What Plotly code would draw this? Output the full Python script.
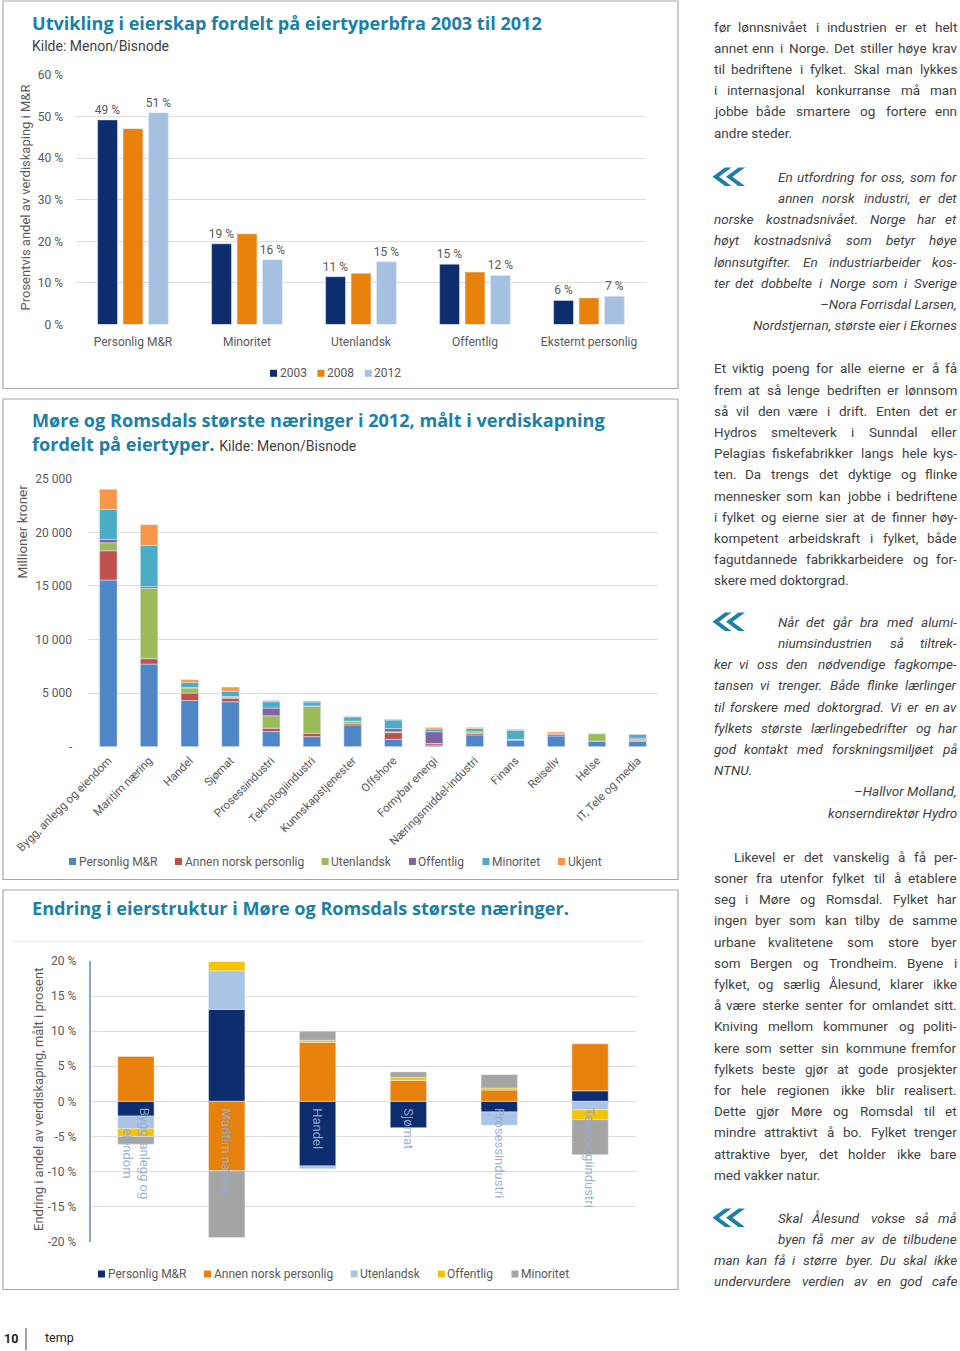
import plotly.graph_objects as go

W, H = 960, 1351


def px(x):
    return x / W


def py(y):
    return 1 - y / H


# ---------------- DATA ----------------
# Chart 1: Utvikling i eierskap (percent of value creation)
c1_categories = ["Personlig M&R", "Minoritet", "Utenlandsk", "Offentlig", "Eksternt personlig"]
c1_years = ["2003", "2008", "2012"]
c1_2003 = [49.2, 19.4, 11.5, 14.5, 5.8]
c1_2008 = [47.1, 21.8, 12.3, 12.6, 6.4]
c1_2012 = [50.9, 15.6, 15.1, 11.8, 6.8]
c1_labels_2003 = ["49 %", "19 %", "11 %", "15 %", "6 %"]
c1_labels_2012 = ["51 %", "16 %", "15 %", "12 %", "7 %"]
c1_yticks = [0, 10, 20, 30, 40, 50, 60]
c1_yticklabels = ["0 %", "10 %", "20 %", "30 %", "40 %", "50 %", "60 %"]

# Chart 2: største næringer 2012 (million NOK)
c2_categories = ["Bygg, anlegg og eiendom", "Maritim næring", "Handel", "Sjømat",
                 "Prosessindustri", "Teknologiindustri", "Kunnskapstjenester", "Offshore",
                 "Fornybar energi", "Næringsmiddel-industri", "Finans", "Reiseliv", "Helse",
                 "IT, Tele og media"]
c2_series = ["Personlig M&R", "Annen norsk personlig", "Utenlandsk", "Offentlig", "Minoritet", "Ukjent"]
c2_personlig = [15550, 7710, 4310, 4190, 1410, 940, 2030, 690, 150, 1100, 630, 1000, 530, 500]
c2_annen = [2730, 500, 690, 340, 310, 310, 150, 620, 150, 150, 0, 200, 0, 100]
c2_utenlandsk = [750, 6560, 470, 100, 1160, 2500, 200, 80, 0, 150, 50, 0, 690, 100]
c2_offentlig = [310, 160, 50, 50, 720, 50, 0, 300, 1100, 0, 0, 0, 0, 100]
c2_minoritet = [2800, 3850, 480, 500, 600, 370, 400, 800, 250, 300, 850, 0, 30, 350]
c2_ukjent = [1870, 1930, 250, 380, 120, 100, 30, 70, 150, 100, 90, 170, 0, 40]
c2_yticks = [0, 5000, 10000, 15000, 20000, 25000]
c2_yticklabels = ["-", "5 000", "10 000", "15 000", "20 000", "25 000"]

# Chart 3: Endring i eierstruktur (percentage points)
c3_categories = ["Bygg, anlegg og eiendom", "Maritim næring", "Handel", "Sjømat",
                 "Prosessindustri", "Teknologiindustri"]
c3_catlabels = ["Bygg, anlegg og<br>eiendom", "Maritim næring", "Handel", "Sjømat",
                "Prosessindustri", "Teknologiindustri"]
c3_series = ["Personlig M&R", "Annen norsk personlig", "Utenlandsk", "Offentlig", "Minoritet"]
c3_personlig = [-2.1, 13.1, -9.2, -3.75, -1.5, 1.5]
c3_annen = [6.4, -9.9, 8.4, 3.0, 1.6, 6.7]
c3_utenlandsk = [-1.8, 5.5, -0.4, 0.0, -1.9, -1.2]
c3_offentlig = [-1.1, 1.3, 0.3, 0.4, 0.3, -1.4]
c3_minoritet = [-1.1, -9.5, 1.3, 0.8, 1.9, -5.0]
c3_yticks = [-20, -15, -10, -5, 0, 5, 10, 15, 20]
c3_yticklabels = ["-20 %", "-15 %", "-10 %", "-5 %", "0 %", "5 %", "10 %", "15 %", "20 %"]

# Body text column
para1 = [("J", "før lønnsnivået i industrien er et helt"),
         ("J", "annet enn i Norge. Det stiller høye krav"),
         ("J", "til bedriftene i fylket. Skal man lykkes"),
         ("J", "i internasjonal konkurranse må man"),
         ("J", "jobbe både smartere og fortere enn"),
         ("L", "andre steder.")]
quote1 = [("Q", "En utfordring for oss, som for"),
          ("Q", "annen norsk industri, er det"),
          ("J", "norske kostnadsnivået. Norge har et"),
          ("J", "høyt kostnadsnivå som betyr høye"),
          ("J", "lønnsutgifter. En industriarbeider kos-"),
          ("J", "ter det dobbelte i Norge som i Sverige"),
          ("R", "–Nora Forrisdal Larsen,"),
          ("R", "Nordstjernan, største eier i Ekornes")]
para2 = [("J", "Et viktig poeng for alle eierne er å få"),
         ("J", "frem at så lenge bedriften er lønnsom"),
         ("J", "så vil den være i drift. Enten det er"),
         ("J", "Hydros smelteverk i Sunndal eller"),
         ("J", "Pelagias fiskefabrikker langs hele kys-"),
         ("J", "ten. Da trengs det dyktige og flinke"),
         ("J", "mennesker som kan jobbe i bedriftene"),
         ("J", "i fylket og eierne sier at de finner høy-"),
         ("J", "kompetent arbeidskraft i fylket, både"),
         ("J", "fagutdannede fabrikkarbeidere og for-"),
         ("L", "skere med doktorgrad.")]
quote2 = [("Q", "Når det går bra med alumi-"),
          ("Q", "niumsindustrien så tiltrek-"),
          ("J", "ker vi oss den nødvendige fagkompe-"),
          ("J", "tansen vi trenger. Både flinke lærlinger"),
          ("J", "til forskere med doktorgrad. Vi er en av"),
          ("J", "fylkets største lærlingebedrifter og har"),
          ("J", "god kontakt med forskningsmiljøet på"),
          ("L", "NTNU."),
          ("R", "–Hallvor Molland,"),
          ("R", "konserndirektør Hydro")]
para3 = [("I", "Likevel er det vanskelig å få per-"),
         ("J", "soner fra utenfor fylket til å etablere"),
         ("J", "seg i Møre og Romsdal. Fylket har"),
         ("J", "ingen byer som kan tilby de samme"),
         ("J", "urbane kvalitetene som store byer"),
         ("J", "som Bergen og Trondheim. Byene i"),
         ("J", "fylket, og særlig Ålesund, klarer ikke"),
         ("J", "å være sterke senter for omlandet sitt."),
         ("J", "Kniving mellom kommuner og politi-"),
         ("J", "kere som setter sin kommune fremfor"),
         ("J", "fylkets beste gjør at gode prosjekter"),
         ("J", "for hele regionen ikke blir realisert."),
         ("J", "Dette gjør Møre og Romsdal til et"),
         ("J", "mindre attraktivt å bo. Fylket trenger"),
         ("J", "attraktive byer, det holder ikke bare"),
         ("L", "med vakker natur.")]
quote3 = [("Q", "Skal Ålesund vokse så må"),
          ("Q", "byen få mer av de tilbudene"),
          ("J", "man kan få i større byer. Du skal ikke"),
          ("J", "undervurdere verdien av en god cafe")]

# ---------------- STYLE ----------------
TEAL = "#1b7fa6"
GRAY = "#595959"
BODY = "#3f3f3f"
GRID = "#dedede"
FONT = "Roboto"
TFONT = "Open Sans"

c1_colors = ["#0d2d6e", "#e8820c", "#a6c0e2"]
c2_colors = ["#4f86c6", "#c0504d", "#9bbb59", "#8064a2", "#4bacc6", "#f79646"]
c3_colors = ["#0d2d6e", "#e8820c", "#a9c4e4", "#f5c400", "#a5a5a5"]

# approximate glyph widths (em) for layout estimation of text
CW = dict(a=.544, b=.561, c=.523, d=.564, e=.530, f=.347, g=.561, h=.551, i=.243, j=.239,
          k=.507, l=.243, m=.876, n=.552, o=.570, p=.561, q=.568, r=.338, s=.515, t=.327,
          u=.551, v=.484, w=.751, x=.496, y=.473, z=.496)
CW.update({"æ": .85, "ø": .57, "å": .544, "é": .53, "A": .652, "B": .622, "C": .651, "D": .656,
           "E": .568, "F": .553, "G": .681, "H": .713, "I": .272, "J": .552, "K": .627, "L": .538,
           "M": .873, "N": .713, "O": .688, "P": .631, "Q": .688, "R": .616, "S": .593, "T": .597,
           "U": .648, "V": .636, "W": .887, "X": .627, "Y": .601, "Z": .599, "Å": .652, "Ø": .688,
           "Æ": .93, " ": .248, ".": .263, ",": .196, "-": .276, "–": .55, ":": .242, "/": .411,
           "&": .622, "%": .73})
for dgt in "0123456789":
    CW[dgt] = .561


def est(s, fs):
    return sum(CW.get(ch, .55) for ch in s) * fs


annotations = []
shapes = []


def ann(x, y, text, xanchor="left", size=13.5, color=BODY, yanchor="middle", family=FONT, **kw):
    d = dict(xref="paper", yref="paper", x=px(x), y=py(y), text=text, showarrow=False,
             xanchor=xanchor, yanchor=yanchor, borderpad=0,
             font=dict(family=family, size=size, color=color))
    d.update(kw)
    annotations.append(d)


fig = go.Figure()

# ---------- Chart 1 ----------
for name, vals, col, lab in zip(c1_years, [c1_2003, c1_2008, c1_2012], c1_colors,
                                [c1_labels_2003, None, c1_labels_2012]):
    fig.add_trace(go.Bar(x=c1_categories, y=vals, name=name, marker_color=col,
                         offsetgroup="g" + name, xaxis="x", yaxis="y", showlegend=False,
                         text=lab, textposition="outside" if lab else "none",
                         constraintext="none",
                         textfont=dict(family=FONT, size=12, color=GRAY), cliponaxis=False,
                         hoverinfo="skip"))

# ---------- Chart 2 ----------
for name, vals, col in zip(c2_series, [c2_personlig, c2_annen, c2_utenlandsk, c2_offentlig,
                                       c2_minoritet, c2_ukjent], c2_colors):
    fig.add_trace(go.Bar(x=c2_categories, y=vals, name=name, marker_color=col, width=0.43,
                         offsetgroup="s2", xaxis="x2", yaxis="y2", showlegend=False,
                         hoverinfo="skip"))

# ---------- Chart 3 ----------
for name, vals, col in zip(c3_series, [c3_personlig, c3_annen, c3_utenlandsk, c3_offentlig,
                                       c3_minoritet], c3_colors):
    fig.add_trace(go.Bar(x=c3_categories, y=vals, name=name, marker_color=col, width=0.4,
                         offsetgroup="s3", xaxis="x3", yaxis="y3", showlegend=False,
                         hoverinfo="skip"))

tickfont = dict(family=FONT, size=12, color=GRAY)

layout = dict(
    width=W, height=H, margin=dict(l=0, r=0, t=0, b=0, pad=0, autoexpand=False),
    autosize=False,
    paper_bgcolor="white", plot_bgcolor="white", barmode="relative",
    bargap=0.33, bargroupgap=0.22, showlegend=False,
    font=dict(family=FONT, color=GRAY),
    xaxis=dict(domain=[px(76), px(646)], anchor="y", type="category", showgrid=False,
               showline=False, ticks="", tickfont=tickfont, ticklabelstandoff=8,
               automargin=False, fixedrange=True),
    yaxis=dict(domain=[py(324.5), py(75)], anchor="x", range=[0, 60], tickvals=c1_yticks,
               ticktext=c1_yticklabels, showgrid=True, gridcolor=GRID, zeroline=False,
               showline=False, tickfont=tickfont, ticklabelstandoff=12, automargin=False,
               fixedrange=True),
    xaxis2=dict(domain=[px(88), px(658)], anchor="y2", type="category", showgrid=False,
                showline=False, ticks="", tickangle=-45,
                tickfont=dict(family=FONT, size=11.5, color=GRAY), ticklabelstandoff=4,
                automargin=False, fixedrange=True),
    yaxis2=dict(domain=[py(746.7), py(478.7)], anchor="x2", range=[0, 25000],
                tickvals=c2_yticks, ticktext=c2_yticklabels, showgrid=True, gridcolor=GRID,
                zeroline=False, showline=False, tickfont=tickfont, ticklabelstandoff=15,
                automargin=False, fixedrange=True),
    xaxis3=dict(domain=[px(90.5), px(635.5)], anchor="y3", type="category", showgrid=False,
                showline=False, ticks="", showticklabels=False, automargin=False,
                fixedrange=True),
    yaxis3=dict(domain=[py(1241.7), py(961)], anchor="x3", range=[-20, 20],
                tickvals=c3_yticks, ticktext=c3_yticklabels, showgrid=True, gridcolor=GRID,
                zeroline=False, showline=True, linecolor="#8ea8ca", linewidth=1.5,
                tickfont=tickfont, ticklabelstandoff=10, automargin=False, fixedrange=True),
)

# ---------- chart frames ----------
for (x0, y0, x1, y1) in [(3, 1, 678, 388.5), (3, 399, 678, 879.5), (3, 890, 678, 1289.5)]:
    shapes.append(dict(type="rect", xref="paper", yref="paper", x0=px(x0), x1=px(x1),
                       y0=py(y1), y1=py(y0), line=dict(color="#a8a8a8", width=1.2),
                       fillcolor="rgba(0,0,0,0)", layer="below"))
shapes.append(dict(type="line", xref="paper", yref="paper", x0=px(11), x1=px(645),
                   y0=py(941.7), y1=py(941.7), line=dict(color="#ebebeb", width=1)))

# ---------- titles ----------
TS = 18.1
ann(31, 23.5, "<b>Utvikling i eierskap fordelt på eiertyperbfra 2003 til 2012</b>", size=TS,
    color=TEAL, family=TFONT)
ann(31, 46.5, "Kilde: Menon/Bisnode", size=14, color=BODY)
ann(31, 431.5, "<b>Møre og Romsdals største næringer i 2012, målt i verdiskapning</b><br>"
               "<b>fordelt på eiertyper.</b> <span style='font-family:Roboto;font-size:14px;"
               "color:#3f3f3f'>Kilde: Menon/Bisnode</span>", size=TS, color=TEAL,
    family=TFONT, align="left")
ann(31, 908, "<b>Endring i eierstruktur i Møre og Romsdals største næringer.</b>", size=TS,
    color=TEAL, family=TFONT)

# ---------- axis titles ----------
ann(24.5, 198, "Prosentvis andel av verdiskaping i M&R", xanchor="center", size=13,
    color=GRAY, textangle=-90)
ann(21.5, 532, "Millioner kroner", xanchor="center", size=13.5, color=GRAY, textangle=-90)
ann(38, 1100, "Endring i andel av verdiskaping, målt i prosent", xanchor="center", size=13,
    color=GRAY, textangle=-90)

# ---------- chart 3 category labels (rotated, inside plot) ----------
for cat, lab in zip(c3_categories, c3_catlabels):
    annotations.append(dict(xref="x3", yref="y3", x=cat, y=-0.7, text=lab, showarrow=False,
                            textangle=90, xanchor="center", yanchor="top",
                            font=dict(family=FONT, size=13, color="rgba(150,172,204,0.95)")))


# ---------- custom legends ----------
def legend_row(names, colors, x_start, y, fs=12, gap=12, sq=7):
    x = x_start
    for nm, col in zip(names, colors):
        shapes.append(dict(type="rect", xref="paper", yref="paper", x0=px(x), x1=px(x + sq),
                           y0=py(y + sq / 2), y1=py(y - sq / 2), fillcolor=col,
                           line=dict(width=0)))
        ann(x + sq + 1.5, y, nm, size=fs, color=GRAY)
        x += sq + 1.5 + est(nm, fs) + gap


legend_row(c1_years, c1_colors, 270, 373.3)
legend_row(c2_series, c2_colors, 69, 861.5, gap=19)
legend_row(c3_series, c3_colors, 98, 1274, gap=19)


# ---------- body text column ----------
def add_line(text, y, mode, italic, x0=713, x1=958, fs=13.5):
    wrap = (lambda s: "<i>" + s + "</i>") if italic else (lambda s: s)
    if mode == "L":
        ann(x0, y, wrap(text), "left", size=fs)
        return
    if mode == "R":
        ann(x1, y, wrap(text), "right", size=fs)
        return
    if mode == "Q":
        x0 = 776.5
    if mode == "I":
        x0 = 733
    words = text.split(" ")
    ws = [est(w_, fs) for w_ in words]
    gap = (x1 - x0 - sum(ws)) / (len(words) - 1)
    gap = max(gap, 2.0)
    x = x0
    for i, (wd_text, wd) in enumerate(zip(words, ws)):
        if i == 0:
            ann(x0, y, wrap(wd_text), "left", size=fs)
        elif i == len(words) - 1:
            ann(x1, y, wrap(wd_text), "right", size=fs)
        else:
            ann(x + wd / 2, y, wrap(wd_text), "center", size=fs)
        x += wd + gap


LH = 21.2
for block, y0, italic in [(para1, 26.7, False), (quote1, 176.7, True), (para2, 368.3, False),
                          (quote2, 621.7, True), (para3, 856.7, False), (quote3, 1217.7, True)]:
    for k, (mode, line) in enumerate(block):
        add_line(line, y0 + k * LH, mode, italic)


# ---------- quote chevrons ----------
def chevrons(cy):
    for dx in (0, 13.5):
        pts = [(725 + dx, cy - 9.2), (731.5 + dx, cy - 9.2), (719 + dx, cy),
               (731.5 + dx, cy + 9.2), (725 + dx, cy + 9.2), (712.5 + dx, cy)]
        p = "M " + " L ".join(f"{px(a):.5f},{py(b):.5f}" for a, b in pts) + " Z"
        shapes.append(dict(type="path", xref="paper", yref="paper", path=p, fillcolor=TEAL,
                           line=dict(width=0)))


for qy in (176.7, 621.7, 1217.7):
    chevrons(qy)

# ---------- footer ----------
ann(3, 1338, "<b>10</b>", size=12.5, color="#222222")
shapes.append(dict(type="line", xref="paper", yref="paper", x0=px(26), x1=px(26), y0=py(1350),
                   y1=py(1328), line=dict(color="#444444", width=1)))
ann(44, 1337, "temp", size=12.5, color="#222222")

layout["annotations"] = annotations
layout["shapes"] = shapes
fig.update_layout(**layout)

# remove the default page margin so the 960x1351 figure fills the window exactly
fig.write_html("out.html", config={"displayModeBar": False},
               post_script="document.body.style.margin='0px';document.body.style.padding='0px';")
